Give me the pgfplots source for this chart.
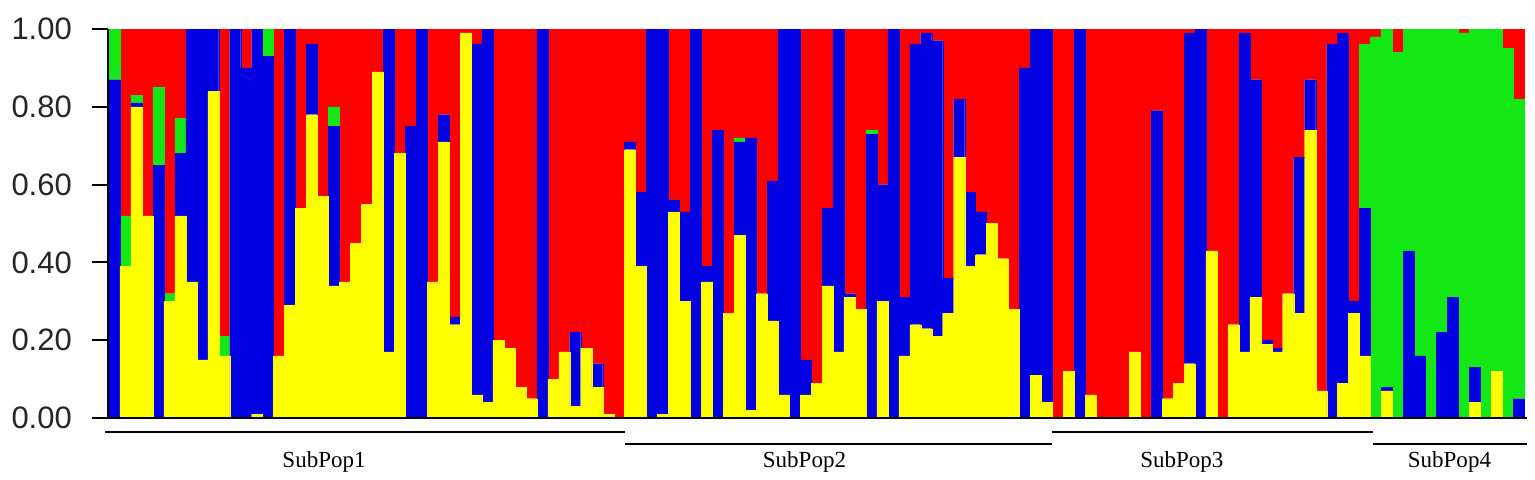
\documentclass[border=0pt]{standalone}
\usepackage{fontspec}
\setmainfont{Liberation Serif}
\newfontfamily\arialfont{Liberation Sans}
\usepackage{pgfplots}
\pgfplotsset{compat=1.18}
\usepackage{pgfplotstable}

\definecolor{qYel}{RGB}{255,255,0}
\definecolor{qBlu}{RGB}{0,0,225}
\definecolor{qGrn}{RGB}{20,232,20}
\definecolor{qRed}{RGB}{255,0,0}

% membership per individual: yellow, blue, green, red
\pgfplotstableread{
x y b g r
0.5 0 0.87 0.13 0
1.5 0.39 0 0.13 0.48
2.5 0.80 0.01 0.02 0.17
3.5 0.52 0 0 0.48
4.5 0 0.65 0.20 0.15
5.5 0.30 0 0.02 0.68
6.5 0.52 0.16 0.09 0.23
7.5 0.35 0.65 0 0
8.5 0.15 0.85 0 0
9.5 0.84 0.16 0 0
10.5 0.16 0 0.05 0.79
11.5 0 1 0 0
12.5 0 0.90 0 0.10
13.5 0.01 0.99 0 0
14.5 0 0.93 0.07 0
15.5 0.16 0 0 0.84
16.5 0.29 0.71 0 0
17.5 0.54 0 0 0.46
18.5 0.78 0.18 0 0.04
19.5 0.57 0 0 0.43
20.5 0.34 0.41 0.05 0.20
21.5 0.35 0 0 0.65
22.5 0.45 0 0 0.55
23.5 0.55 0 0 0.45
24.5 0.89 0 0 0.11
25.5 0.17 0.83 0 0
26.5 0.68 0 0 0.32
27.5 0 0.75 0 0.25
28.5 0 1 0 0
29.5 0.35 0 0 0.65
30.5 0.71 0.07 0 0.22
31.5 0.24 0.02 0 0.74
32.5 0.99 0 0 0.01
33.5 0.06 0.90 0 0.04
34.5 0.04 0.96 0 0
35.5 0.20 0 0 0.80
36.5 0.18 0 0 0.82
37.5 0.08 0 0 0.92
38.5 0.05 0 0 0.95
39.5 0 1 0 0
40.5 0.10 0 0 0.90
41.5 0.17 0 0 0.83
42.5 0.03 0.19 0 0.78
43.5 0.18 0 0 0.82
44.5 0.08 0.06 0 0.86
45.5 0.01 0 0 0.99
46.5 0 0 0 1
47.5 0.69 0.02 0 0.29
48.5 0.39 0.19 0 0.42
49.5 0 1 0 0
50.5 0.01 0.99 0 0
51.5 0.53 0.03 0 0.44
52.5 0.30 0.23 0 0.47
53.5 0 1 0 0
54.5 0.35 0.04 0 0.61
55.5 0 0.74 0 0.26
56.5 0.27 0 0 0.73
57.5 0.47 0.24 0.01 0.28
58.5 0.02 0.70 0 0.28
59.5 0.32 0 0 0.68
60.5 0.25 0.36 0 0.39
61.5 0.06 0.94 0 0
62.5 0 1 0 0
63.5 0.06 0.09 0 0.85
64.5 0.09 0 0 0.91
65.5 0.34 0.20 0 0.46
66.5 0.17 0.83 0 0
67.5 0.31 0.01 0 0.68
68.5 0.28 0 0 0.72
69.5 0 0.73 0.01 0.26
70.5 0.30 0.30 0 0.40
71.5 0 1 0 0
72.5 0.16 0.15 0 0.69
73.5 0.24 0.72 0 0.04
74.5 0.23 0.76 0 0.01
75.5 0.21 0.76 0 0.03
76.5 0.27 0.09 0 0.64
77.5 0.67 0.15 0 0.18
78.5 0.39 0.19 0 0.42
79.5 0.42 0.11 0 0.47
80.5 0.50 0 0 0.50
81.5 0.41 0 0 0.59
82.5 0.28 0 0 0.72
83.5 0 0.90 0 0.10
84.5 0.11 0.89 0 0
85.5 0.04 0.96 0 0
86.5 0 0 0 1
87.5 0.12 0 0 0.88
88.5 0 1 0 0
89.5 0.06 0 0 0.94
90.5 0 0 0 1
91.5 0 0 0 1
92.5 0 0 0 1
93.5 0.17 0 0 0.83
94.5 0 0 0 1
95.5 0 0.79 0 0.21
96.5 0.05 0 0 0.95
97.5 0.09 0 0 0.91
98.5 0.14 0.85 0 0.01
99.5 0 1 0 0
100.5 0.43 0 0 0.57
101.5 0 0 0 1
102.5 0.24 0 0 0.76
103.5 0.17 0.82 0 0.01
104.5 0.31 0.56 0 0.13
105.5 0.19 0.01 0 0.80
106.5 0.17 0.01 0 0.82
107.5 0.32 0 0 0.68
108.5 0.27 0.40 0 0.33
109.5 0.74 0.13 0 0.13
110.5 0.07 0 0 0.93
111.5 0 0.96 0 0.04
112.5 0.09 0.90 0 0.01
113.5 0.27 0.03 0 0.70
114.5 0.16 0.38 0.42 0.04
115.5 0 0 0.98 0.02
116.5 0.07 0.01 0.92 0
117.5 0 0 0.94 0.06
118.5 0 0.43 0.57 0
119.5 0 0.16 0.84 0
120.5 0 0 1 0
121.5 0 0.22 0.78 0
122.5 0 0.31 0.69 0
123.5 0 0 0.99 0.01
124.5 0.04 0.09 0.87 0
125.5 0 0 1 0
126.5 0.12 0 0.88 0
127.5 0 0 0.95 0.05
128.5 0 0.05 0.77 0.18
}\qdata

\begin{document}
\begin{tikzpicture}
\begin{axis}[
    scale only axis,
    width=709.5pt, height=194.5pt,
    xmin=-0.1, xmax=129.3,
    ymin=0, ymax=1,
    ybar stacked,
    bar width=1,
    axis lines*=left,
    axis line style={black, line width=1pt},
    axis on top,
    clip=false,
    xtick=\empty,
    ytick={0,0.2,0.4,0.6,0.8,1},
    tick align=outside,
    major tick length=8pt,
    ytick style={draw=black, line width=1pt},
    yticklabel style={
        font=\arialfont\fontsize{15.5}{15.5}\selectfont,
        text=black!85, xshift=-6.5pt,
        /pgf/number format/.cd, fixed, fixed zerofill, precision=2,
        assume math mode=true},
]
\addplot[fill=qYel, draw=qYel, line width=0.1pt] table[x=x, y=y] {\qdata};
\addplot[fill=qBlu, draw=qBlu, line width=0.1pt] table[x=x, y=b] {\qdata};
\addplot[fill=qGrn, draw=qGrn, line width=0.1pt] table[x=x, y=g] {\qdata};
\addplot[fill=qRed, draw=qRed, line width=0.1pt] table[x=x, y=r] {\qdata};

% tick marks on the left of the value axis
\pgfplotsinvokeforeach{0,0.2,0.4,0.6,0.8,1}{
    \draw[black, line width=1pt] (axis cs:-0.1,#1) -- ++(-8pt,0);
}

% group lines and names below the bars
\draw[black, line width=0.8pt] (axis cs:-0.36,-0.036) -- (axis cs:47.0,-0.036);
\draw[black, line width=0.8pt] (axis cs:47.0,-0.067) -- (axis cs:86.0,-0.067);
\draw[black, line width=0.8pt] (axis cs:86.0,-0.036) -- (axis cs:115.2,-0.036);
\draw[black, line width=0.8pt] (axis cs:115.2,-0.067) -- (axis cs:129.3,-0.067);
\node[font=\fontsize{11.5}{12}\selectfont] at (axis cs:19.6,-0.113) {SubPop1};
\node[font=\fontsize{11.5}{12}\selectfont] at (axis cs:63.4,-0.113) {SubPop2};
\node[font=\fontsize{11.5}{12}\selectfont] at (axis cs:97.8,-0.113) {SubPop3};
\node[font=\fontsize{11.5}{12}\selectfont] at (axis cs:122.2,-0.113) {SubPop4};

\path (axis cs:-9.94,1.0746) rectangle (axis cs:130.0,-0.157);
\end{axis}
\end{tikzpicture}
\end{document}
